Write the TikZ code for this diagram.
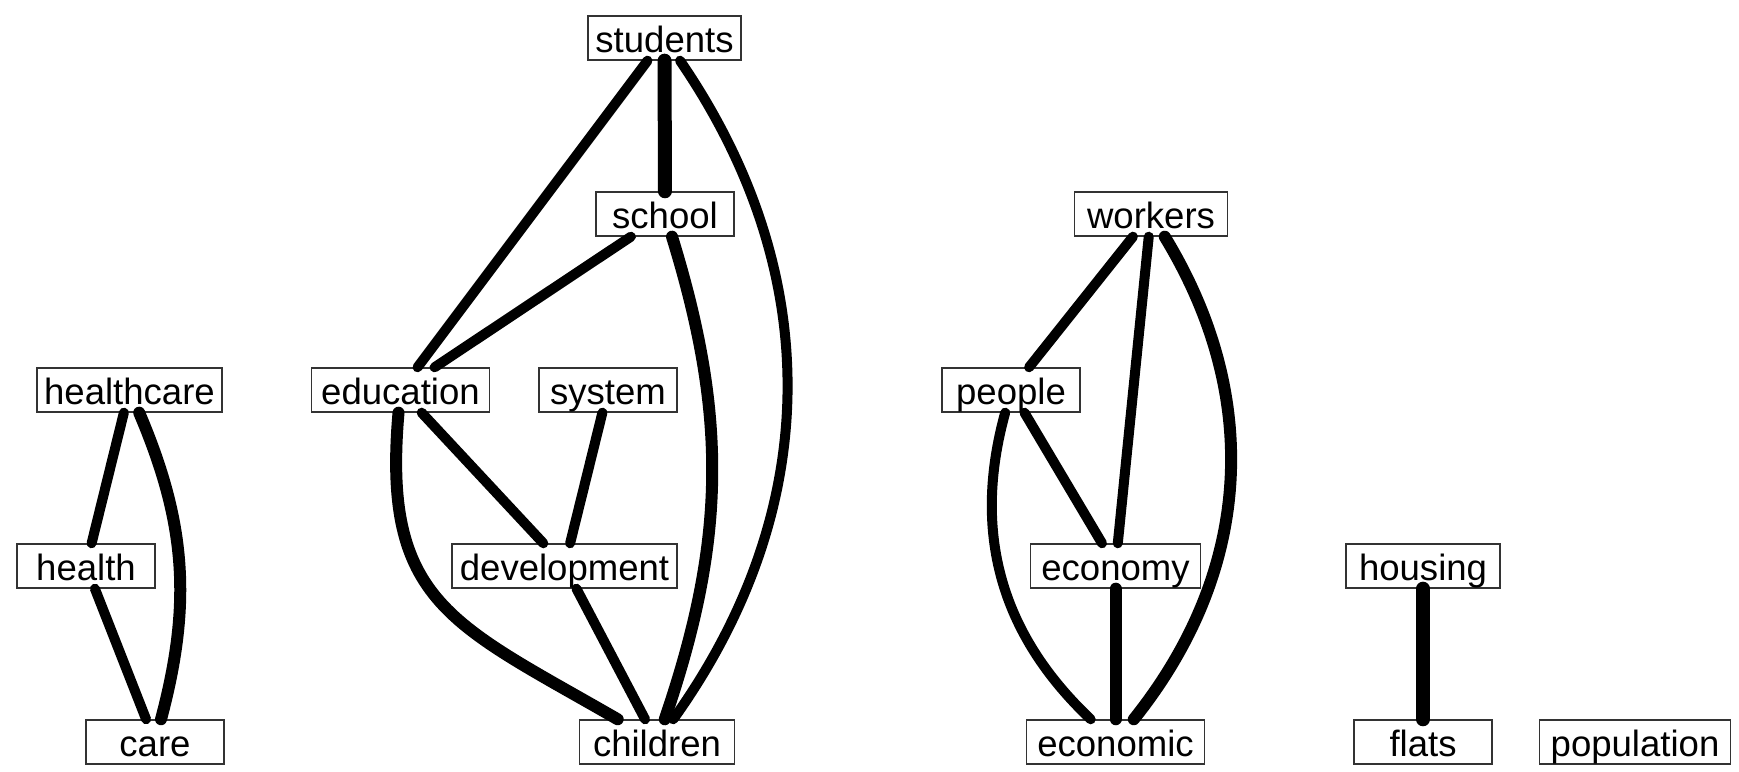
\documentclass[tikz,border=0pt]{standalone}
\usepackage{fontspec}
\setmainfont{Liberation Sans}

\tikzset{
  mot/.style={draw=black!80, line width=0.4pt, inner xsep=0pt, inner ysep=0pt,
    text height=0.37cm, text depth=0.07cm, font=\fontsize{10.4}{12}\selectfont},
  lien/.style={line width=0.10cm, line cap=round},
  lienf/.style={line width=0.12cm, line cap=round},
  lienff/.style={line width=0.14cm, line cap=round},
}

\begin{document}
\begin{tikzpicture}
\useasboundingbox (0,0) rectangle (17.39,7.72);
 \node[mot, minimum width=1.53cm] (students) at(6.645,7.34) {students} ;
 \node[mot, minimum width=1.38cm] (school) at(6.65,5.58) {school} ;
 \node[mot, minimum width=1.78cm] (education) at(4.005,3.82) {education} ;
 \node[mot, minimum width=1.38cm] (system) at(6.08,3.82) {system} ;
 \node[mot, minimum width=2.25cm] (development) at(5.645,2.06) {development} ;
 \node[mot, minimum width=1.55cm] (children) at(6.57,0.30) {children} ;
 \node[mot, minimum width=1.85cm] (healthcare) at(1.295,3.82) {healthcare} ;
 \node[mot, minimum width=1.38cm] (health) at(0.86,2.06) {health} ;
 \node[mot, minimum width=1.38cm] (care) at(1.55,0.30) {care} ;
 \node[mot, minimum width=1.53cm] (workers) at(11.51,5.58) {workers} ;
 \node[mot, minimum width=1.38cm] (people) at(10.11,3.82) {people} ;
 \node[mot, minimum width=1.70cm] (economy) at(11.155,2.06) {economy} ;
 \node[mot, minimum width=1.78cm] (economic) at(11.155,0.30) {economic} ;
 \node[mot, minimum width=1.54cm] (housing) at(14.23,2.06) {housing} ;
 \node[mot, minimum width=1.38cm] (flats) at(14.23,0.30) {flats} ;
 \node[mot, minimum width=1.91cm] (population) at(16.35,0.30) {population} ;
% education
\draw[lienff] (students) -- (school) ;
\draw[lien] (students) -- (education) ;
\draw[lien] (students) to[bend left=35] (children) ;
\draw[lien] (school) -- (education) ;
\draw[lienf] (school) to[bend left=18] (children) ;
\draw[lien] (education) -- (development) ;
\draw[lienf] (education) to[out=-95, in=150, looseness=1.3] (children) ;
\draw[lien] (system) -- (development) ;
\draw[lien] (development) -- (children) ;
% health
\draw[lien] (healthcare) -- (health) ;
\draw[lienf] (healthcare) to[bend left=19] (care) ;
\draw[lien] (health) -- (care) ;
% economy
\draw[lien] (workers) -- (people) ;
\draw[lien] (workers) -- (economy) ;
\draw[lienf] (workers) to[bend left=35] (economic) ;
\draw[lien] (people) -- (economy) ;
\draw[lien] (people) to[bend right=31] (economic) ;
\draw[lienf] (economy) -- (economic) ;
\draw[lienff] (housing) -- (flats) ;
\end{tikzpicture}
\end{document}
